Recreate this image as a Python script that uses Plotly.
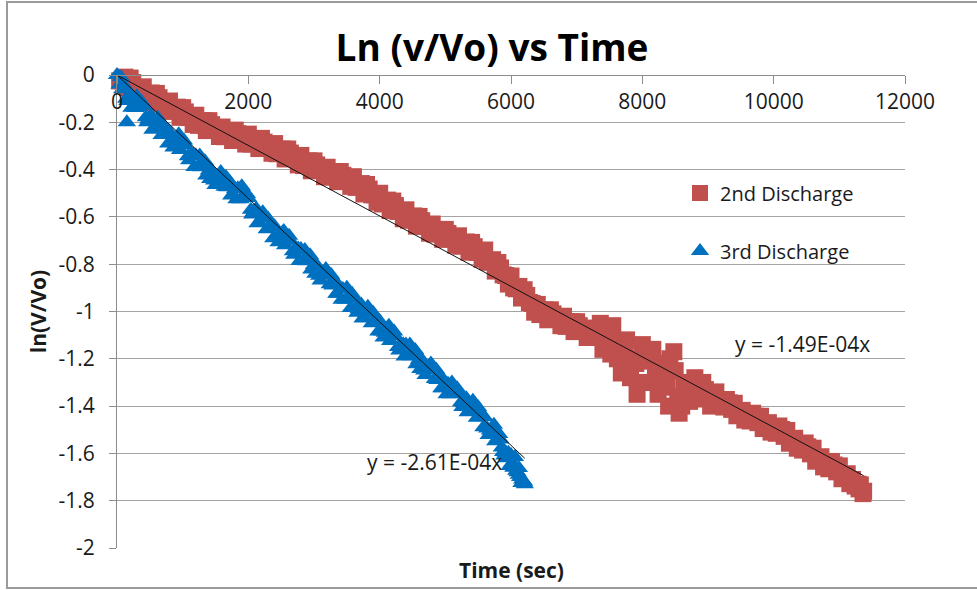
import plotly.graph_objects as go

# ---------------- data ----------------
series_names = ["2nd Discharge", "3rd Discharge"]

red_x = [0, 80, 160, 240, 320, 400, 480, 560, 640, 720, 800, 880, 960, 1040, 1120, 1200,
         1280, 1360, 1440, 1520, 1600, 1680, 1760, 1840, 1920, 2000, 2080, 2160, 2240, 2320,
         2400, 2480, 2560, 2640, 2720, 2800, 2880, 2960, 3040, 3120, 3200, 3280, 3360, 3440,
         3520, 3600, 3680, 3760, 3840, 3920, 4000, 4080, 4160, 4240, 4320, 4400, 4480, 4560,
         4640, 4720, 4800, 4880, 4960, 5040, 5120, 5200, 5280, 5360, 5440, 5520, 5600, 5680,
         5760, 5840, 5920, 6000, 6080, 6160, 6240, 6320, 6400, 6480, 6560, 6640, 6720, 6800,
         6880, 6960, 7040, 7120, 7200,
         40, 120, 200, 280, 360, 440, 520, 600, 680, 760, 840, 920, 1000, 1080, 1160, 1240,
         1320, 1400, 1480, 1560, 1640, 1720, 1800, 1880, 1960, 2040, 2120, 2200, 2280, 2360,
         2440, 2520, 2600, 2680, 2760, 2840, 2920, 3000, 3080, 3160, 3240, 3320, 3400, 3480,
         3560, 3640, 3720, 3800, 3880, 3960, 4040, 4120, 4200, 4280, 4360, 4440, 4520, 4600,
         4680, 4760, 4840, 4920, 5000, 5080, 5160, 5240, 5320, 5400, 5480, 5560, 5640, 5720,
         5800, 5880, 5960, 6040, 6120, 6200, 6280, 6360, 6440, 6520, 6600, 6680, 6760, 6840,
         6920, 7000, 7080, 7160,
         7280, 7360, 7400, 7440, 7520, 7600, 7680, 7760, 7840, 7920, 8000, 8080, 8160, 8240,
         8320, 8400, 8480, 8560, 8640, 8720, 8800, 8880, 8960, 9040, 9120, 9200,
         7450, 7550, 7700, 7900, 8100, 8300, 8500, 8600, 8650, 9000,
         7330, 7480, 7620, 7740, 7820, 7980, 8060, 8200, 8380, 8420, 8540, 8700, 8840, 8920,
         9080, 9160,
         9280, 9360, 9440, 9520, 9600, 9680, 9760, 9840, 9920, 10000, 10080, 10160, 10240,
         10320, 10400, 10480, 10560, 10640, 10720, 10800, 10880, 10960, 11040, 11120, 11200,
         11280, 11300, 11360, 11370,
         9240, 9320, 9400, 9480, 9560, 9640, 9720, 9800, 9880, 9960, 10040, 10120, 10200,
         10280, 10360, 10440, 10520, 10600, 10680, 10760, 10840, 10920, 11000, 11080, 11160,
         11240, 11320]
red_y = [0.01, -0.024, -0.053, -0.032, -0.056, -0.05, -0.092, -0.119, -0.096, -0.118, -0.11,
         -0.152, -0.179, -0.156, -0.178, -0.17, -0.21, -0.235, -0.21, -0.23, -0.22, -0.256,
         -0.277, -0.248, -0.264, -0.25, -0.288, -0.311, -0.284, -0.302, -0.29, -0.33, -0.355,
         -0.33, -0.35, -0.34, -0.38, -0.405, -0.38, -0.40, -0.39, -0.428, -0.451, -0.424,
         -0.442, -0.43, -0.474, -0.503, -0.482, -0.506, -0.50, -0.544, -0.573, -0.552, -0.576,
         -0.57, -0.612, -0.639, -0.616, -0.638, -0.63, -0.67, -0.695, -0.67, -0.69, -0.68,
         -0.722, -0.749, -0.726, -0.748, -0.74, -0.792, -0.829, -0.816, -0.848, -0.85, -0.904,
         -0.943, -0.932, -0.966, -0.97, -1.01, -1.035, -1.01, -1.03, -1.02, -1.06, -1.085,
         -1.06, -1.08, -1.07,
         -0.025, -0.009, -0.013, -0.057, -0.088, -0.094, -0.076, -0.078, -0.12, -0.149, -0.154,
         -0.136, -0.138, -0.18, -0.209, -0.213, -0.193, -0.193, -0.233, -0.26, -0.261, -0.237,
         -0.233, -0.269, -0.292, -0.292, -0.27, -0.268, -0.306, -0.331, -0.333, -0.313, -0.313,
         -0.353, -0.38, -0.383, -0.363, -0.363, -0.403, -0.43, -0.432, -0.41, -0.408, -0.446,
         -0.471, -0.475, -0.459, -0.463, -0.507, -0.538, -0.545, -0.529, -0.533, -0.577,
         -0.608, -0.614, -0.596, -0.598, -0.64, -0.669, -0.673, -0.653, -0.653, -0.693, -0.72,
         -0.724, -0.706, -0.708, -0.75, -0.779, -0.789, -0.781, -0.793, -0.845, -0.884, -0.90,
         -0.894, -0.908, -0.962, -1.003, -1.013, -0.993, -0.993, -1.033, -1.06, -1.063, -1.043,
         -1.043, -1.083, -1.11,
         -1.08, -1.05, -1.16, -1.12, -1.18, -1.13, -1.26, -1.12, -1.20, -1.35, -1.14, -1.30,
         -1.16, -1.35, -1.22, -1.40, -1.17, -1.43, -1.30, -1.38, -1.28, -1.37, -1.33, -1.40,
         -1.34, -1.39,
         -1.08, -1.06, -1.18, -1.22, -1.21, -1.28, -1.25, -1.40, -1.36, -1.36,
         -1.10, -1.14, -1.20, -1.16, -1.28, -1.30, -1.18, -1.26, -1.32, -1.20, -1.36, -1.31,
         -1.33, -1.30, -1.37, -1.38,
         -1.372, -1.414, -1.441, -1.418, -1.44, -1.43, -1.47, -1.495, -1.47, -1.49, -1.484,
         -1.528, -1.557, -1.536, -1.56, -1.556, -1.602, -1.633, -1.614, -1.64, -1.634, -1.678,
         -1.707, -1.686, -1.71, -1.73, -1.75, -1.77, -1.76,
         -1.404, -1.386, -1.388, -1.43, -1.459, -1.463, -1.443, -1.443, -1.483, -1.51, -1.515,
         -1.499, -1.503, -1.547, -1.578, -1.586, -1.572, -1.578, -1.624, -1.657, -1.665,
         -1.649, -1.653, -1.697, -1.728, -1.738, -1.733]

blue_x = [0, 80, 160, 240, 320, 400, 480, 560, 640, 720, 800, 880, 960, 1040, 1120, 1200,
          1280, 1360, 1440, 1520, 1600, 1680, 1760, 1840, 1920, 2000, 2080, 2160, 2240, 2320,
          2400, 2480, 2560, 2640, 2720, 2800, 2880, 2960, 3040, 3120, 3200, 3280, 3360, 3440,
          3520, 3600, 3680, 3760, 3840, 3920, 4000, 4080, 4160, 4240, 4320, 4400, 4480, 4560,
          4640, 4720, 4800, 4880, 4960, 5040, 5120, 5200, 5280, 5360, 5440, 5520, 5600, 5680,
          5760, 5840, 5920, 6000, 6080, 6160, 6200,
          40, 120, 200, 280, 360, 440, 520, 600, 680, 760, 840, 920, 1000, 1080, 1160, 1240,
          1320, 1400, 1480, 1560, 1640, 1720, 1800, 1880, 1960, 2040, 2120, 2200, 2280, 2360,
          2440, 2520, 2600, 2680, 2760, 2840, 2920, 3000, 3080, 3160, 3240, 3320, 3400, 3480,
          3560, 3640, 3720, 3800, 3880, 3960, 4040, 4120, 4200, 4280, 4360, 4440, 4520, 4600,
          4680, 4760, 4840, 4920, 5000, 5080, 5160, 5240, 5320, 5400, 5480, 5560, 5640, 5720,
          5800, 5880, 5960, 6040, 6120,
          140, 300, 460, 620, 780, 940, 1100, 1260, 1420, 1580, 1740, 1900, 2060, 2220, 2380,
          2540, 2700, 2860, 3020, 3180, 3340, 3500, 3660, 3820, 3980, 4140, 4300, 4460, 4620,
          4780, 4940, 5100, 5260, 5420, 5580, 5740, 5900, 6060,
          60, 220, 380, 540, 700, 860, 1020, 1180, 1340, 1500, 1660, 1820, 1980, 2140, 2300,
          2460, 2620, 2780, 2940, 3100, 3260, 3420, 3580, 3740, 3900, 4060, 4220, 4380, 4540,
          4700, 4860, 5020, 5180, 5340, 5500, 5660, 5820, 5980,
          150, 3560,
          5860, 5950, 6020, 6040, 6100, 6120, 6140, 6170, 6180, 6210]
blue_y = [0.0, -0.06, -0.11, -0.095, -0.135, -0.13, -0.187, -0.228, -0.209, -0.249, -0.24,
          -0.286, -0.317, -0.297, -0.341, -0.34, -0.39, -0.425, -0.403, -0.439, -0.43, -0.475,
          -0.505, -0.479, -0.52, -0.52, -0.58, -0.625, -0.606, -0.647, -0.64, -0.686, -0.72,
          -0.70, -0.74, -0.736, -0.787, -0.822, -0.803, -0.844, -0.84, -0.89, -0.925, -0.905,
          -0.945, -0.94, -0.99, -1.025, -1.005, -1.045, -1.04, -1.09, -1.125, -1.105, -1.145,
          -1.14, -1.189, -1.223, -1.203, -1.244, -1.24, -1.29, -1.325, -1.305, -1.345, -1.34,
          -1.388, -1.421, -1.402, -1.446, -1.447, -1.503, -1.549, -1.541, -1.596, -1.607,
          -1.673, -1.725, -1.72,
          -0.04, -0.048, -0.093, -0.14, -0.128, -0.179, -0.17, -0.209, -0.254, -0.24, -0.283,
          -0.264, -0.297, -0.344, -0.336, -0.385, -0.37, -0.404, -0.446, -0.43, -0.473, -0.453,
          -0.482, -0.525, -0.516, -0.57, -0.565, -0.606, -0.652, -0.639, -0.683, -0.666, -0.70,
          -0.745, -0.734, -0.782, -0.767, -0.803, -0.849, -0.838, -0.885, -0.87, -0.905, -0.95,
          -0.938, -0.985, -0.97, -1.005, -1.05, -1.038, -1.085, -1.07, -1.105, -1.15, -1.138,
          -1.185, -1.169, -1.203, -1.249, -1.238, -1.285, -1.27, -1.305, -1.35, -1.338, -1.384,
          -1.367, -1.402, -1.449, -1.442, -1.495, -1.489, -1.535, -1.594, -1.597, -1.66, -1.662,
          -0.10, -0.09, -0.20, -0.18, -0.29, -0.25, -0.36, -0.34, -0.44, -0.41, -0.51, -0.47,
          -0.59, -0.58, -0.69, -0.66, -0.76, -0.74, -0.84, -0.82, -0.925, -0.90, -1.005, -0.98,
          -1.085, -1.06, -1.165, -1.14, -1.243, -1.22, -1.325, -1.30, -1.404, -1.377, -1.489,
          -1.479, -1.609, -1.615,
          -0.01, -0.139, -0.115, -0.232, -0.209, -0.307, -0.277, -0.389, -0.365, -0.465, -0.431,
          -0.525, -0.504, -0.627, -0.607, -0.707, -0.68, -0.786, -0.762, -0.869, -0.845, -0.95,
          -0.925, -1.03, -1.005, -1.11, -1.085, -1.19, -1.163, -1.269, -1.245, -1.35, -1.325,
          -1.426, -1.405, -1.522, -1.518, -1.653,
          -0.20, -0.985,
          -1.575, -1.62, -1.64, -1.66, -1.68, -1.69, -1.70, -1.71, -1.72, -1.73]

trend_slopes = [-1.49e-4, -2.61e-4]
trend_labels = ["y = -1.49E-04x", "y = -2.61E-04x"]

x_tick_vals = [0, 2000, 4000, 6000, 8000, 10000, 12000]
x_tick_text = ["0", "2000", "4000", "6000", "8000", "10000", "12000"]
y_tick_vals = [0, -0.2, -0.4, -0.6, -0.8, -1.0, -1.2, -1.4, -1.6, -1.8, -2.0]
y_tick_text = ["0", "-0.2", "-0.4", "-0.6", "-0.8", "-1", "-1.2", "-1.4", "-1.6", "-1.8", "-2"]

# ---------------- styles ----------------
RED = "#C0504D"
BLUE = "#0070C0"
GRID = "#a3a3a3"
AXIS = "#8c8c8c"
FONT = "Open Sans"
TXT = "#1a1a1a"

W, H = 977, 590
ML, MR, MT, MB = 117, 72, 75, 42
PW, PH = W - ML - MR, H - MT - MB


def px(x):
    return (x - ML) / PW


def py(y):
    return (H - MB - y) / PH


fig = go.Figure()

fig.add_trace(go.Scatter(
    x=red_x, y=red_y, mode="markers", name=series_names[0],
    marker=dict(symbol="square", size=17, color=RED, line=dict(width=0)),
    cliponaxis=False, legend="legend"))
fig.add_trace(go.Scatter(
    x=blue_x, y=blue_y, mode="markers", name=series_names[1],
    marker=dict(symbol="triangle-up", size=16, color=BLUE, line=dict(width=0)),
    cliponaxis=False, legend="legend2"))

for slope, xs in zip(trend_slopes, [red_x, blue_x]):
    xe = max(xs)
    fig.add_trace(go.Scatter(
        x=[0, xe], y=[0, slope * xe], mode="lines", showlegend=False,
        line=dict(color="#111111", width=1), cliponaxis=False, hoverinfo="skip"))

fig.add_annotation(x=9380, y=-1.137, xref="x", yref="y", text=trend_labels[0],
                   showarrow=False, xanchor="left", yanchor="middle",
                   font=dict(family=FONT, size=21, color=TXT))
fig.add_annotation(x=3776, y=-1.636, xref="x", yref="y", text=trend_labels[1],
                   showarrow=False, xanchor="left", yanchor="middle",
                   font=dict(family=FONT, size=21, color=TXT))

# x axis title (axis itself sits on the y=0 line at the top)
fig.add_annotation(x=px(511), y=py(570), xref="paper", yref="paper", text="<b>Time (sec)</b>",
                   showarrow=False, xanchor="center", yanchor="middle",
                   font=dict(family=FONT, size=21, color=TXT))

# outer chart border
fig.add_shape(type="rect", xref="paper", yref="paper", x0=px(7), x1=px(990), y0=py(588), y1=py(2),
              line=dict(color="#9a9a9a", width=2), fillcolor="rgba(0,0,0,0)", layer="below")

fig.update_layout(
    width=W, height=H,
    margin=dict(l=ML, r=MR, t=MT, b=MB, autoexpand=False),
    paper_bgcolor="white", plot_bgcolor="white",
    font=dict(family=FONT, size=21, color=TXT),
    title=dict(text="<b>Ln (v/Vo) vs Time</b>", x=492 / W, y=1 - 48 / H,
               xanchor="center", yanchor="middle", xref="container", yref="container",
               font=dict(family=FONT, size=37, color="#000000")),
    showlegend=True,
    legend=dict(x=px(680), y=py(193), xanchor="left", yanchor="middle",
                bgcolor="rgba(0,0,0,0)", font=dict(family=FONT, size=20, color=TXT)),
    legend2=dict(x=px(680), y=py(251), xanchor="left", yanchor="middle",
                 bgcolor="rgba(0,0,0,0)", font=dict(family=FONT, size=20, color=TXT)),
    xaxis=dict(range=[0, 12000], tickvals=x_tick_vals, ticktext=x_tick_text,
               anchor="free", position=1, side="bottom",
               ticks="outside", ticklen=8, tickcolor=AXIS, tickwidth=1,
               showline=True, linecolor=AXIS, linewidth=1,
               showgrid=False, zeroline=False,
               tickfont=dict(family=FONT, size=21, color=TXT)),
    yaxis=dict(range=[-2, 0], tickvals=y_tick_vals, ticktext=y_tick_text,
               ticks="outside", ticklen=7, tickcolor=AXIS, tickwidth=1,
               showline=True, linecolor=AXIS, linewidth=1,
               showgrid=True, gridcolor=GRID, gridwidth=1, zeroline=False,
               ticklabelstandoff=10,
               tickfont=dict(family=FONT, size=21, color=TXT),
               title=dict(text="<b>ln(V/Vo)</b>", standoff=6,
                          font=dict(family=FONT, size=21, color=TXT))),
)

fig.write_html("out.html", config={"displayModeBar": False},
               post_script="document.body.style.margin='0';document.body.style.overflow='hidden';")
